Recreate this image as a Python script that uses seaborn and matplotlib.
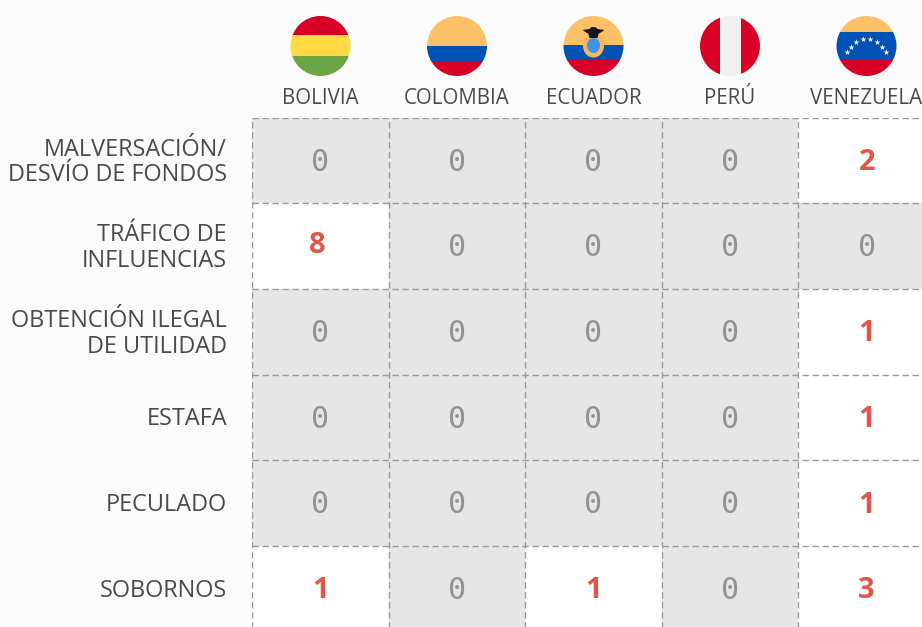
import numpy as np
import pandas as pd
import matplotlib
matplotlib.use("Agg")
import matplotlib.pyplot as plt
from matplotlib.colors import ListedColormap
from matplotlib.patches import Circle, Rectangle, Polygon, Ellipse
import seaborn as sns

countries = ["BOLIVIA", "COLOMBIA", "ECUADOR", "PERÚ", "VENEZUELA"]
crimes = ["MALVERSACIÓN/\nDESVÍO DE FONDOS", "TRÁFICO DE\nINFLUENCIAS",
          "OBTENCIÓN ILEGAL\nDE UTILIDAD", "ESTAFA", "PECULADO", "SOBORNOS"]
bolivia = [0, 8, 0, 0, 0, 1]
colombia = [0, 0, 0, 0, 0, 0]
ecuador = [0, 0, 0, 0, 0, 1]
peru = [0, 0, 0, 0, 0, 0]
venezuela = [2, 0, 1, 1, 1, 3]

W, H = 922, 627
BG = "#fbfbfb"
GREY = "#e6e6e6"
CELL_W, CELL_H = 136.6, 85.6
LEFT, TOP = 252, 117.8

df = pd.DataFrame({"BOLIVIA": bolivia, "COLOMBIA": colombia, "ECUADOR": ecuador,
                   "PERÚ": peru, "VENEZUELA": venezuela}, index=crimes)

sns.set_theme(style="white")
plt.rcParams["font.family"] = ["Open Sans", "DejaVu Sans"]

fig = plt.figure(figsize=(W / 100, H / 100), dpi=100, facecolor=BG)
ax = fig.add_axes([LEFT / W, 1 - (TOP + CELL_H * 6) / H, CELL_W * 5 / W, CELL_H * 6 / H])
mask01 = (df.values > 0).astype(int)
sns.heatmap(pd.DataFrame(mask01, index=df.index, columns=df.columns), ax=ax,
            cmap=ListedColormap([GREY, "#ffffff"]), vmin=0, vmax=1, cbar=False,
            linewidths=0, xticklabels=False, yticklabels=False)

# dashed grid
for i in range(6):
    ax.axvline(i, color="#999999", lw=1.0, ls=(0, (4.6, 2.6)), clip_on=True, zorder=3)
for j in range(7):
    ax.axhline(j, color="#999999", lw=1.0, ls=(0, (4.6, 2.6)), clip_on=True, zorder=3)

# cell values
for r, crime in enumerate(df.index):
    for c, country in enumerate(df.columns):
        v = df.loc[crime, country]
        if v == 0:
            ax.text(c + 0.5, r + 0.52, "0", ha="center", va="center", fontsize=21.5,
                    color="#929292", family="DejaVu Sans Mono", zorder=4)
        else:
            nudge_x, nudge_y = (-0.022, -0.03) if v == 8 else (0, 0)
            ax.text(c + 0.5 + nudge_x, r + 0.525 + nudge_y, str(v), ha="center", va="center",
                    fontsize=21, color="#e0574a", fontweight="bold", zorder=4)

# row labels, to the left of the grid
for r, crime in enumerate(crimes):
    ax.annotate(crime, xy=(0, r + 0.5), xycoords="data", xytext=(-18, -1.5),
                textcoords="offset points", ha="right", va="center", fontsize=16.9,
                color="#4a4a4a", linespacing=1.09, annotation_clip=False)

# overlay in pixel coordinates for the column headers and flags
ov = fig.add_axes([0, 0, 1, 1], facecolor="none")
ov.set_xlim(0, W)
ov.set_ylim(H, 0)
ov.axis("off")
centers = [320.5, 457, 593.5, 730, 866.5]
for name, cx in zip(countries, centers):
    ov.text(cx, 98.8, name, ha="center", va="center", fontsize=14.8, color="#4a4a4a")

RED = "#d80027"
YEL = "#ffda44"
GRN = "#6da544"
BLU = "#0052b4"
ORG = "#fcc166"
CY, R = 46, 30

def flag(cx, bands=None, vbands=None):
    clip = Circle((cx, CY), R, transform=ov.transData)
    if bands:
        for y0, y1, col in bands:
            p = Rectangle((cx - R - 1, y0), 2 * R + 2, y1 - y0, color=col, lw=0)
            ov.add_patch(p)
            p.set_clip_path(clip)
    if vbands:
        for x0, x1, col in vbands:
            p = Rectangle((cx + x0, CY - R - 1), x1 - x0, 2 * R + 2, color=col, lw=0)
            ov.add_patch(p)
            p.set_clip_path(clip)

flag(centers[0], bands=[(15, 35, RED), (35, 55.5, YEL), (55.5, 77, GRN)])
flag(centers[1], bands=[(15, 45.7, ORG), (45.7, 61, BLU), (61, 77, RED)])
flag(centers[2], bands=[(15, 45, ORG), (45, 60, BLU), (60, 77, RED)])
flag(centers[3], vbands=[(-31, -10.5, RED), (-10.5, 10.5, "#f0f0f0"), (10.5, 31, RED)])
flag(centers[4], bands=[(15, 32, ORG), (32, 58.7, BLU), (58.7, 77, RED)])

# Ecuador emblem: orange cup, blue shield, black condor
ex = centers[2]
ov.add_patch(Ellipse((ex, 46), 21, 23, color="#f5b75c", lw=0, zorder=3))
ov.add_patch(Ellipse((ex, 45.5), 13, 15, color="#3f93e8", lw=0, zorder=3))
ov.add_patch(Polygon([(ex - 11, 30), (ex - 4, 29), (ex - 2, 27), (ex + 2, 27), (ex + 4, 29),
                      (ex + 11, 30), (ex + 5, 34), (ex + 4, 38), (ex - 4, 38), (ex - 5, 34)],
                     closed=True, color="#161616", lw=0, zorder=4))

# Venezuela stars
vx = centers[4]
star_x = [-19.5, -15.8, -10.5, -4, 3, 10, 15.5, 19]
star_y = [52, 46.7, 41.7, 39, 39, 41.7, 46.7, 52]
ov.scatter([vx + s for s in star_x], star_y, marker="*", s=20, color="white", lw=0, zorder=4)

fig.savefig("out.png", dpi=100, facecolor=BG)
